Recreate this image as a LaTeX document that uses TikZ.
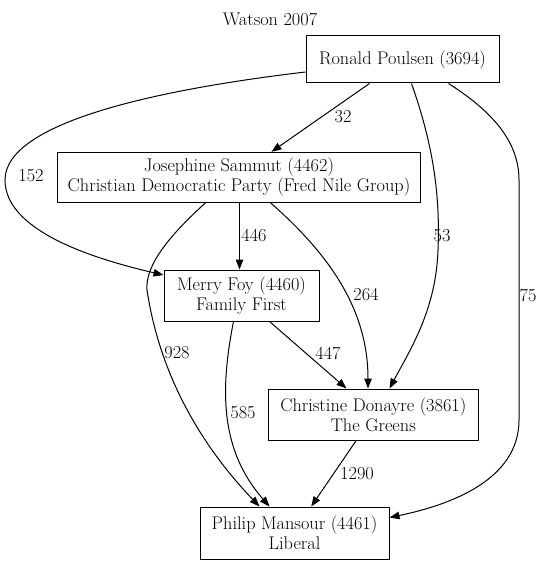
\documentclass[tikz,border=0pt]{standalone}
\usetikzlibrary{arrows.meta,calc}

\begin{document}
\begin{tikzpicture}[x = 1pt, y = -1pt,
    font = \fontsize{18.3}{20}\selectfont,
    cand/.style = {draw, rectangle, line width = 1pt, inner sep = 0pt, align = center},
    vote/.style = {draw, line width = 1pt, -{Triangle[length = 10pt, width = 7.5pt]}},
    num/.style = {inner sep = 0pt}]
    \useasboundingbox (0,0) rectangle (543,564);

    \node (title) at (270,19) {Watson 2007};
    \node (ronald) at (402.5,59.5) [cand, minimum width = 193pt, minimum height = 47pt] {Ronald Poulsen (3694)};
    \node (josephine) at (239,177.3) [cand, minimum width = 363pt, minimum height = 50pt] {Josephine Sammut (4462)\\Christian Democratic Party (Fred Nile Group)};
    \node (merry) at (241.5,295.5) [cand, minimum width = 155pt, minimum height = 51pt] {Merry Foy (4460)\\Family First};
    \node (christine) at (373.3,414.5) [cand, minimum width = 210pt, minimum height = 51pt] {Christine Donayre (3861)\\The Greens};
    \node (philip) at (294.5,533) [cand, minimum width = 189pt, minimum height = 52pt] {Philip Mansour (4461)\\Liberal};

    % from Ronald Poulsen
    \draw ($(ronald.south west)+(64,0)$) -- ($(josephine.north west)+(214.5,0)$) [vote] node[num] at (343,117) {32};
    \draw ($(ronald.west)+(0,12.5)$) .. controls (170,88) and (5,120) .. (5,180) .. controls (5,230) and (90,258) .. ($(merry.north west)+(0,5.5)$) [vote] node[num] at (31,176) {152};
    \draw ($(ronald.south west)+(106,0)$) .. controls (435,150) and (440,200) .. (438,250) .. controls (436,310) and (410,350) .. ($(christine.north west)+(121.7,0)$) [vote] node[num] at (442,236) {53};
    \draw ($(ronald.south west)+(143,0)$) .. controls (490,110) and (519,140) .. (519,180) -- (519,420) .. controls (519,480) and (450,505) .. ($(philip.north east)+(0,11)$) [vote] node[num] at (528,295) {75};

    % from Josephine Sammut
    \draw ($(josephine.south west)+(182.5,0)$) -- ($(merry.north west)+(76,0)$) [vote] node[num] at (254,236) {446};
    \draw ($(josephine.south west)+(213.5,0)$) .. controls (330,255) and (368,310) .. ($(christine.north west)+(100.2,0)$) [vote] node[num] at (366,295) {264};
    \draw ($(josephine.south west)+(148.5,0)$) .. controls (170,235) and (145,265) .. (147,290) .. controls (162,390) and (215,460) .. ($(philip.north west)+(60,0)$) [vote] node[num] at (177,353) {928};

    % from Merry Foy
    \draw ($(merry.south west)+(106,0)$) -- ($(christine.north west)+(78.7,0)$) [vote] node[num] at (328,353) {447};
    \draw ($(merry.south west)+(70,0)$) .. controls (220,390) and (220,450) .. ($(philip.north west)+(70,0)$) [vote] node[num] at (243,413) {585};

    % from Christine Donayre
    \draw ($(christine.south west)+(88.4,0)$) -- ($(philip.north west)+(111.7,0)$) [vote] node[num] at (357,474) {1290};
\end{tikzpicture}
\end{document}
